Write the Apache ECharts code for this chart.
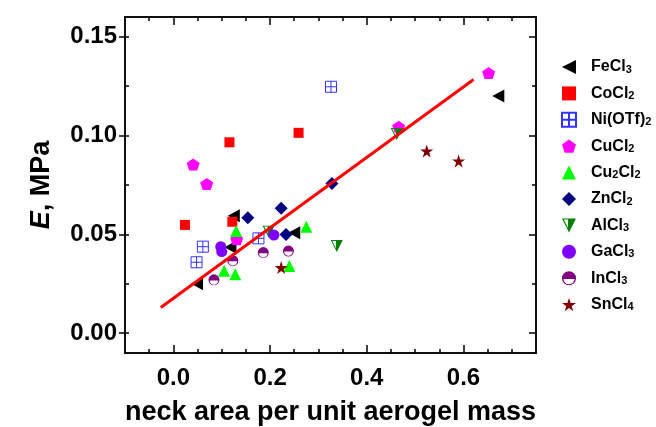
<!DOCTYPE html>
<html>
<head>
<meta charset="utf-8">
<script src="https://cdn.jsdelivr.net/npm/echarts@6/dist/echarts.min.js"></script>
<style>
  html, body { margin: 0; padding: 0; background: #fff; }
  #chart { width: 656px; height: 427px; }
</style>
</head>
<body>
<div id="chart"></div>
<script>
// data: [neck area per unit aerogel mass, E (MPa)]
var feCl3 = [[0.672, 0.120], [0.125, 0.0595], [0.118, 0.0435], [0.049, 0.025], [0.250, 0.0509]]
var coCl2 = [[0.024, 0.0548], [0.116, 0.0966], [0.259, 0.1014], [0.122, 0.0564]]
var niOTf2 = [[0.326, 0.1247], [0.061, 0.0438], [0.048, 0.0359], [0.176, 0.048]]
var cuCl2 = [[0.652, 0.1317], [0.466, 0.1045], [0.041, 0.0854], [0.069, 0.0755], [0.131, 0.0475]]
var cu2Cl2 = [[0.130, 0.0517], [0.275, 0.0539], [0.105, 0.0316], [0.128, 0.0298], [0.240, 0.034]]
var znCl2 = [[0.328, 0.0758], [0.223, 0.0632], [0.154, 0.0584], [0.233, 0.050]]
var alCl3 = [[0.462, 0.1008], [0.338, 0.0441], [0.197, 0.0514]]
var gaCl3 = [[0.098, 0.0438], [0.100, 0.0413], [0.208, 0.0497]]
var inCl3 = [[0.084, 0.027], [0.123, 0.0367], [0.186, 0.0408], [0.238, 0.0416]]
var snCl4 = [[0.524, 0.0922], [0.590, 0.0871], [0.223, 0.0332]]
var fitLine = [[-0.026, 0.013], [0.621, 0.1284]]

var xMajor = [0, 0.2, 0.4, 0.6]
var xMinor = [-0.05, 0, 0.05, 0.1, 0.15, 0.2, 0.25, 0.3, 0.35, 0.4, 0.45, 0.5, 0.55, 0.6, 0.65, 0.7]
var yMajor = [0, 0.05, 0.1, 0.15]
var yMinor = [0, 0.025, 0.05, 0.075, 0.1, 0.125, 0.15]

var FONT = 'Liberation Sans, Arial, Helvetica, sans-serif'

var chart = echarts.init(document.getElementById('chart'))

function xAxisPart(position, ticks, len, labels) {
  return {
    type: 'value', position: position, min: -0.1, max: 0.75,
    axisLine: { show: true, onZero: false, lineStyle: { color: '#000', width: 1.5 } },
    axisTick: { show: true, inside: true, length: len, customValues: ticks, lineStyle: { color: '#000', width: 1.5 } },
    axisLabel: labels ? {
      show: true, customValues: xMajor, margin: 13,
      color: '#000', fontSize: 24, fontWeight: 'bold', fontFamily: FONT,
      formatter: function (v) { return v.toFixed(1) }
    } : { show: false },
    splitLine: { show: false }
  }
}

function yAxisPart(position, ticks, len, inside, labels) {
  return {
    type: 'value', position: position, min: -0.01, max: 0.16,
    axisLine: { show: true, onZero: false, lineStyle: { color: '#000', width: 1.5 } },
    axisTick: { show: true, inside: inside, length: len, customValues: ticks, lineStyle: { color: '#000', width: 1.5 } },
    axisLabel: labels ? {
      show: true, customValues: yMajor, margin: 8,
      color: '#000', fontSize: 24, fontWeight: 'bold', fontFamily: FONT,
      formatter: function (v) { return v.toFixed(2) }
    } : { show: false },
    splitLine: { show: false }
  }
}

var xBottom = xAxisPart('bottom', xMajor, 8, true)
xBottom.name = 'neck area per unit aerogel mass'
xBottom.nameLocation = 'middle'
xBottom.nameGap = 46
xBottom.nameTextStyle = { color: '#000', fontSize: 27, fontWeight: 'bold', fontFamily: FONT }

var yLeft = yAxisPart('left', yMajor, 6, false, true)
yLeft.name = '{i|E}, MPa'
yLeft.nameLocation = 'middle'
yLeft.nameGap = 70
yLeft.nameTextStyle = {
  color: '#000', fontSize: 27, fontWeight: 'bold', fontFamily: FONT,
  rich: { i: { fontStyle: 'italic', fontSize: 27, fontWeight: 'bold', fontFamily: FONT, color: '#000' } }
}

function scatter(name, data, symbol, size, color, extra) {
  var s = {
    name: name, type: 'scatter', data: data,
    symbol: symbol, symbolSize: size,
    itemStyle: { color: color, opacity: 1 }
  }
  if (extra) Object.assign(s, extra)
  return s
}

var leftTriPath = 'path://M10,0L10,10L0,5Z'
var gridPath = 'path://M0,0H10V10H0Z M5,0V10 M0,5H10'
var pentPath = 'path://M5,0L9.76,3.45L7.94,9.05L2.06,9.05L0.24,3.45Z'
var starPath = 'path://M5,0L6.18,3.62L10,3.62L6.91,5.86L8.09,9.51L5,7.27L1.91,9.51L3.09,5.86L0,3.62L3.82,3.62Z'
var halfTriPath = 'path://M0,0L10,0L5,10Z M1.3,0.8L4.3,6.8L4.3,0.8Z'
var halfCirclePath = 'path://M0,5A5,5,0,1,1,10,5A5,5,0,1,1,0,5Z M1.1,5.5A3.9,3.9,0,0,0,8.9,5.5Z'

var names = ['FeCl3', 'CoCl2', 'Ni(OTf)2', 'CuCl2', 'Cu2Cl2', 'ZnCl2', 'AlCl3', 'GaCl3', 'InCl3', 'SnCl4']

chart.setOption({
  animation: false,
  backgroundColor: '#fff',
  grid: { left: 125, right: 120, top: 17, bottom: 74, outerBoundsMode: 'none', containLabel: false },
  xAxis: [
    xBottom,
    xAxisPart('bottom', xMinor, 4, false),
    xAxisPart('top', xMajor, 8, false),
    xAxisPart('top', xMinor, 4, false)
  ],
  yAxis: [
    yLeft,
    yAxisPart('left', yMinor, 4, true, false),
    yAxisPart('right', yMajor, 7, true, false),
    yAxisPart('right', yMinor, 4, true, false)
  ],
  legend: {
    data: names,
    orient: 'vertical',
    left: 556,
    top: 51,
    itemWidth: 14,
    itemHeight: 14,
    itemGap: 7.4,
    textStyle: {
      color: '#000', fontSize: 16, fontWeight: 'bold', fontFamily: FONT, lineHeight: 16,
      padding: [0, 0, 0, 10],
      rich: { s: { fontSize: 11, fontWeight: 'bold', fontFamily: FONT, color: '#000', lineHeight: 16, verticalAlign: 'bottom', padding: [8, 0, 0, 0] } }
    },
    formatter: function (name) { return name.replace(/(\d)/g, '{s|$1}') }
  },
  series: [
    scatter('FeCl3', feCl3, leftTriPath, [12, 13], '#000'),
    scatter('CoCl2', coCl2, 'rect', 10, '#ff0000'),
    scatter('Ni(OTf)2', niOTf2, gridPath, 11, 'rgba(255,255,255,0)', {
      itemStyle: { color: 'rgba(255,255,255,0)', borderColor: '#3333ff', borderWidth: 1, opacity: 1 }
    }),
    scatter('CuCl2', cuCl2, pentPath, [13, 12], '#ff00ff'),
    scatter('Cu2Cl2', cu2Cl2, 'triangle', 12, '#00ff00'),
    scatter('ZnCl2', znCl2, 'diamond', 13, '#000080'),
    scatter('AlCl3', alCl3, halfTriPath, 12, '#008000'),
    scatter('GaCl3', gaCl3, 'circle', 11, '#8000ff'),
    scatter('InCl3', inCl3, halfCirclePath, 11, '#800080'),
    scatter('SnCl4', snCl4, starPath, 13, '#800000'),
    {
      name: 'fit', type: 'line', data: fitLine, symbol: 'none', z: 5,
      lineStyle: { color: '#ff0000', width: 3 }
    }
  ]
})
</script>
</body>
</html>
